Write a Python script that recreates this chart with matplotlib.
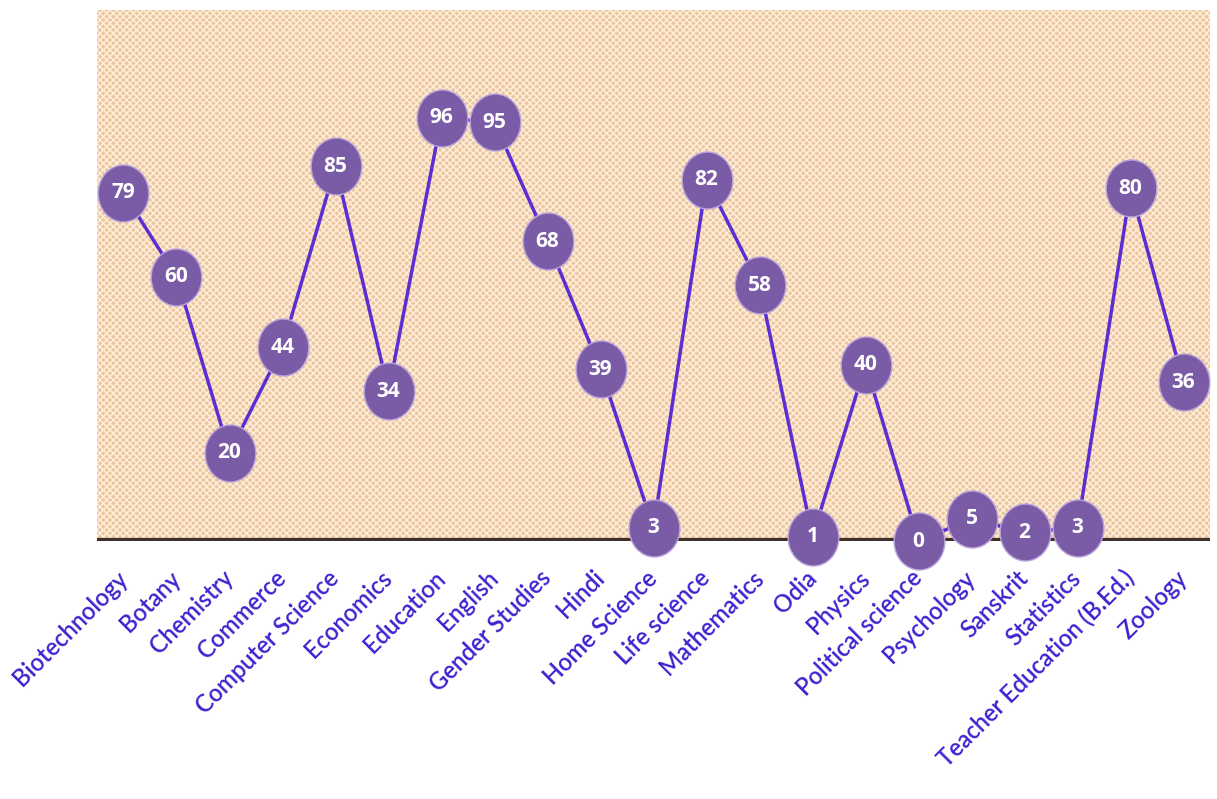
import numpy as np
import matplotlib.pyplot as plt
from matplotlib.path import Path
from matplotlib.transforms import Affine2D

subjects = ['Biotechnology', 'Botany', 'Chemistry', 'Commerce', 'Computer Science',
            'Economics', 'Education', 'English', 'Gender Studies', 'Hindi',
            'Home Science', 'Life science', 'Mathematics', 'Odia', 'Physics',
            'Political science', 'Psychology', 'Sanskrit', 'Statistics',
            'Teacher Education (B.Ed.)', 'Zoology']
counts = [79, 60, 20, 44, 85, 34, 96, 95, 68, 39, 3, 82, 58, 1, 40, 0, 5, 2, 3, 80, 36]

plt.rcParams['font.family'] = ['Lato', 'DejaVu Sans']

fig = plt.figure(figsize=(12.17, 7.99), dpi=100)
ax = fig.add_axes([0.0797, 0.3229, 0.9146, 0.6646])

x = np.arange(len(subjects)) + 0.5
ax.set_xlim(0, len(subjects))
ax.set_ylim(0, 120.5)

# patterned background
ax.fill_between([0, len(subjects)], 0, 120.5, facecolor='#EDC6A0', edgecolor='#FFF0DC',
                hatch='xxxxx', linewidth=0, zorder=0)

# baseline
ax.axhline(0, color='#3E3028', linewidth=4.5, zorder=2)

# elliptical marker
ell = Path.unit_circle().transformed(Affine2D().scale(0.89, 1.0))

ax.plot(x, counts, color='#5B2ED4', linewidth=2.5, zorder=3, clip_on=False)
ax.plot(x, counts, linestyle='none', marker=ell, markersize=41,
        markerfacecolor='#7A5CA6', markeredgecolor='#B9A3DA', markeredgewidth=1,
        zorder=4, clip_on=False)
for xi, v in zip(x, counts):
    ax.text(xi, v, str(v), ha='center', va='center', color='white',
            fontsize=15, fontweight='bold', family=['Open Sans', 'DejaVu Sans'], zorder=5)

ax.set_xticks(x)
ax.set_xticklabels(subjects, rotation=45, ha='right', va='center', rotation_mode='anchor',
                   color='#3F22D0', fontsize=17, fontweight='semibold')
ax.tick_params(axis='x', length=0, pad=24)
ax.set_yticks([])
for s in ax.spines.values():
    s.set_visible(False)

fig.savefig('out.png', dpi=100)
